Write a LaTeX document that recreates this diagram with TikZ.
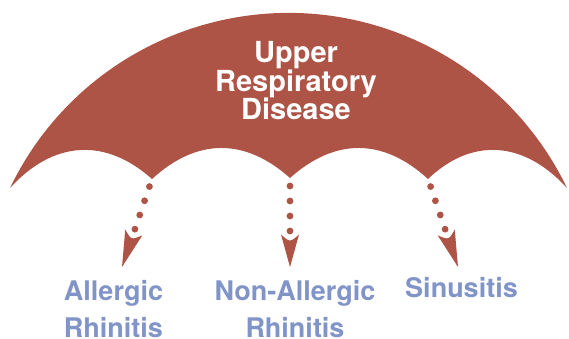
\documentclass[tikz,border=0pt]{standalone}
\usepackage{fontspec}
\setmainfont{TeX Gyre Heros}
\usetikzlibrary{calc}
\definecolor{canopy}{RGB}{174,84,70}
\definecolor{labelblue}{RGB}{128,148,200}
\begin{document}
\begin{tikzpicture}[x=1pt,y=-1pt,
  titletext/.style={text=white, font=\fontsize{29}{28.5}\selectfont\bfseries, align=center, inner sep=0pt, anchor=base},
  lbl/.style={text=labelblue, font=\fontsize{27}{37}\selectfont\bfseries, align=center, inner sep=0pt, anchor=base},
  dotline/.style={draw=canopy, line width=6.8pt, line cap=round, dash pattern=on 0pt off 15pt, dash phase=7pt},
  headfill/.style={fill=canopy}]
\useasboundingbox (0,0) rectangle (569,339);
% canopy
\fill[canopy] (10,188) arc[start angle=154.3, end angle=25.7, radius=309.1pt]
  .. controls (522,138.8) and (470,138.8) .. (428,179)
  .. controls (383,137.8) and (335,137.8) .. (290,178)
  .. controls (245,137.8) and (197,137.8) .. (152,179)
  .. controls (107,138.8) and (55,138.8) .. (10,188) -- cycle;
% cusps and tips
\coordinate (c1) at (152,179);
\coordinate (c2) at (290,178);
\coordinate (c3) at (428,179);
\coordinate (t1) at (122,267);
\coordinate (t2) at (290,267);
\coordinate (t3) at (458,267);
\foreach \i in {1,2,3}{
  \coordinate (b\i) at ($(c\i)!56.5pt!(t\i)$);
  \coordinate (n\i) at ($(c\i)!64.5pt!(t\i)$);
  \coordinate (l\i) at ($(b\i)!9pt!90:(t\i)$);
  \coordinate (r\i) at ($(b\i)!9pt!-90:(t\i)$);
  \draw[dotline] (c\i) -- (b\i);
  \fill[headfill] (l\i) .. controls (n\i) .. (r\i) -- (t\i) -- cycle;
}
% texts (anchor base = baseline of the last line)
\node[titletext] (title) at (296,120) {Upper\\Respiratory\\Disease};
\node[lbl] (allergic) at (113.5,337) {Allergic\\Rhinitis};
\node[lbl] (nonallergic) at (295,337) {Non-Allergic\\Rhinitis};
\node[lbl] (sinus) at (461.5,297) {Sinusitis};
\end{tikzpicture}
\end{document}
